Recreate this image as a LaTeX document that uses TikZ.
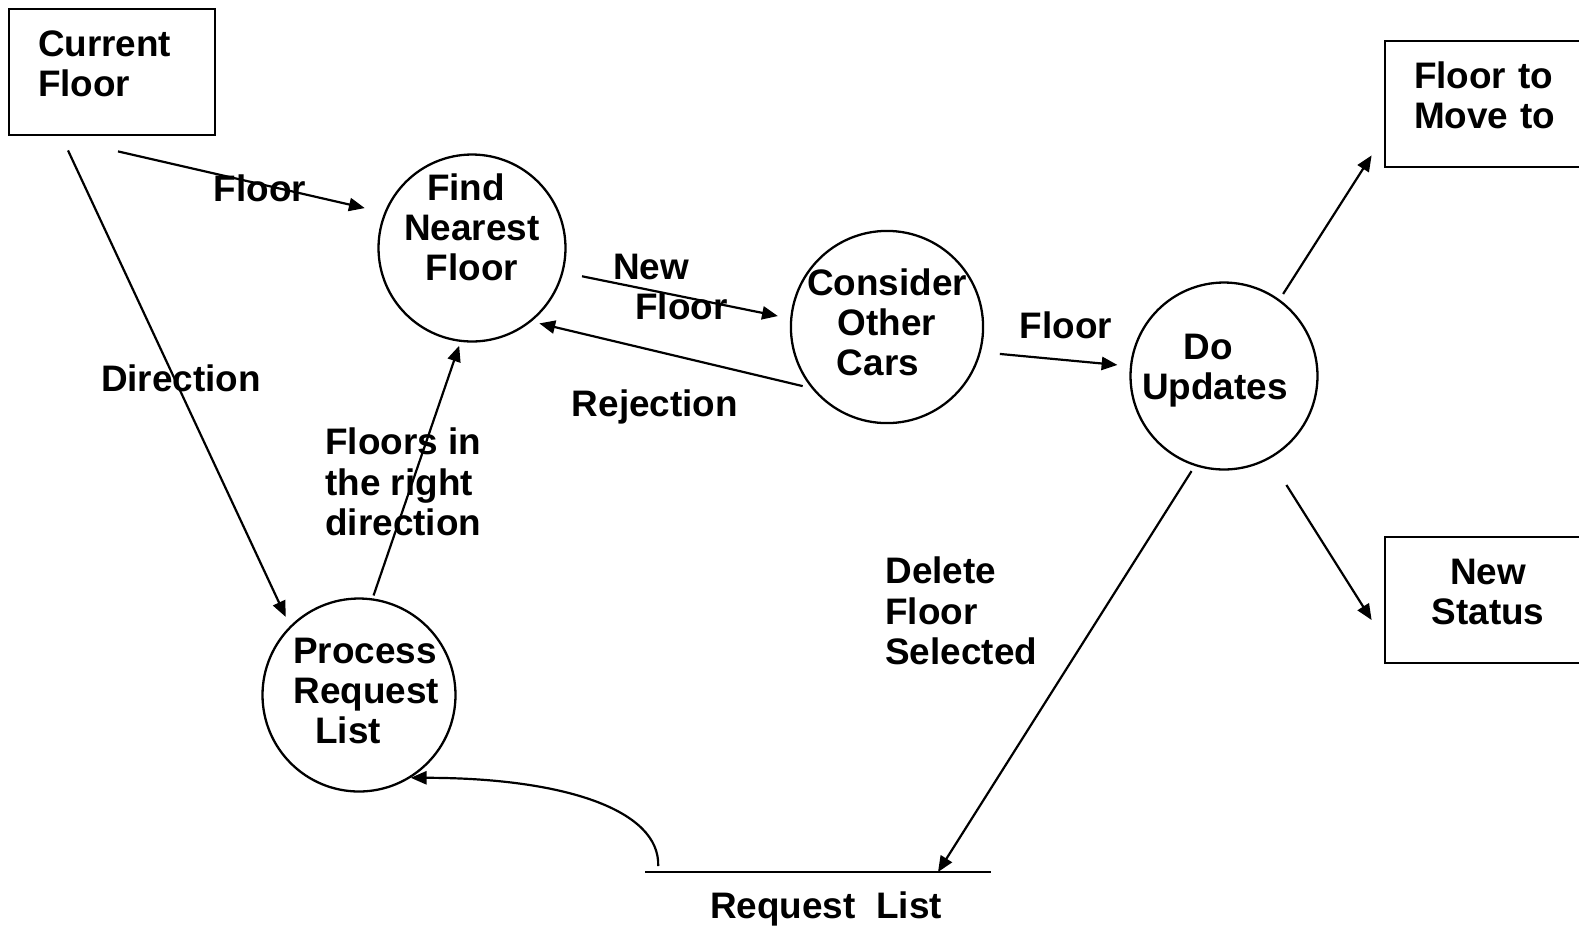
\documentclass[tikz,border=0pt]{standalone}
\usepackage{fontspec}
\setmainfont{Liberation Sans}
\usetikzlibrary{arrows.meta}
\tikzset{
  store/.style={rectangle, draw, line width=1.6pt, minimum width=4.12cm, minimum height=2.52cm,
    text width=2.96cm, inner xsep=0.58cm, align=left, text height=0.35cm, text depth=0.99cm},
  proc/.style={circle, draw, line width=1.3pt, minimum size=3.74cm, inner sep=0pt, align=center},
  flow/.style={-{Triangle[length=9pt,width=7.5pt]}, line width=1.25pt},
  lbl/.style={align=left, inner sep=0pt},
}

\begin{document}
\begin{tikzpicture}[x=0.02cm, y=-0.02cm, font=\bfseries\fontsize{21}{22.9}\selectfont]
\useasboundingbox (0,0) rectangle (1579,951);

% terminators
\node[store] (cur) at (112,72) {Current\\Floor};
\node[store] (movto) at (1488,104) {Floor to\\Move to};
\node[store, align=center] (newst) at (1488,600) {New\\Status};

% processes
\node[proc, text height=1.72cm, text depth=0.42cm] (find) at (472,248) {Find\hspace*{0.24cm}\\Nearest\\Floor};
\node[proc, text height=2.04cm, text depth=0.1cm] (con) at (887,327) {Consider\\Other\hspace*{0.4cm}\\Cars\hspace*{0.36cm}};
\node[proc, text height=1.22cm, text depth=0.28cm] (doupd) at (1224,376) {Do\hspace*{0.64cm}\\Updates\hspace*{0.36cm}};
\node[proc, text height=2.04cm, text depth=0.1cm] (proc) at (359,695) {\hspace*{0.24cm}Process\\\hspace*{0.3cm}Request\\List\hspace*{0.44cm}};

% data store
\node[inner ysep=0.38cm, minimum width=6.9cm, anchor=north] (req) at (818,872) {\hspace*{0.32cm}Request\ \ List};
\draw[line width=1.6pt] (req.north west) -- (req.north east);

% flows
\draw[flow, shorten >=0.4cm] ([shift={(6,15)}]cur.south) -- (find.158);
\draw[flow, shorten >=0.2cm] ([shift={(-44,14)}]cur.south) -- (proc.135);
\draw[flow, shorten <=0.06cm, shorten >=0.08cm] (proc.82) -- (find.263);
\draw[flow, shorten <=0.38cm, shorten >=0.25cm] (find.-15) -- (con.175);
\draw[flow, shorten <=0.18cm, shorten >=0.16cm] (con.219) -- (find.-51);
\draw[flow, shorten <=0.38cm, shorten >=0.25cm] (con.-15) -- (doupd.174);
\draw[flow, shorten <=0.13cm] (doupd.54) -- ([shift={(-12,-13)}]movto.south west);
\draw[flow, shorten <=0.62cm] (doupd.-61) -- ([shift={(-12,20)}]newst.west);
\draw[flow, shorten <=0.12cm] (doupd.252) -- ([shift={(120,0)}]req.north);
\draw[flow] ([shift={(13,-6)}]req.north west) .. controls +(2,-56) and +(153,0) .. (proc.-58);

% flow labels
\node[lbl] (lfloor) at (260,188) {Floor};
\node[lbl] (ldir) at (181,378) {Direction};
\node[lbl, anchor=west] (lright) at (325,482) {Floors in\\the right\\direction};
\node[lbl, anchor=west] (lnew) at (613,287) {New\\\hspace*{0.44cm}Floor};
\node[lbl] (lrej) at (655,407) {Rejection};
\node[lbl] (lfloor2) at (1066,325) {Floor};
\node[lbl, anchor=west] (ldel) at (885,611) {Delete\\Floor\\Selected};
\end{tikzpicture}
\end{document}
